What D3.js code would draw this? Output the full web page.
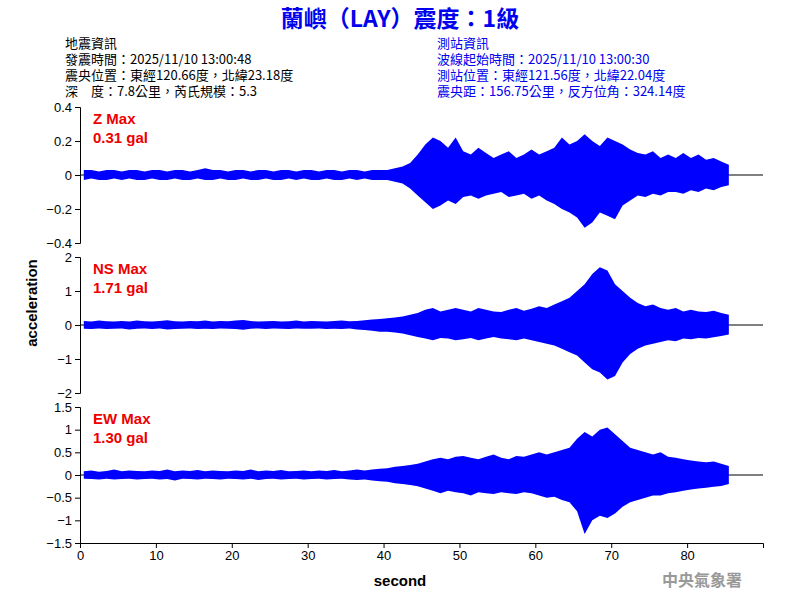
<!DOCTYPE html>
<html><head><meta charset="utf-8">
<script src="https://cdn.jsdelivr.net/npm/d3@7"></script>
<style>body{margin:0;background:#fff}text{font-family:Arial,"Liberation Sans",sans-serif}</style>
</head><body><div id="chart"></div>
<script>
// peak envelope per second
let zHi=[.03,.03,.02,.03,.03,.02,.03,.03,.02,.03,.03,.02,.03,.03,.02,.03,.04,.03,.03,.02,.03,.03,.02,.03,.03,.02,.03,.03,.02,.03,.03,.02,.03,.03,.02,.03,.03,.02,.03,.03,.03,.04,.05,.07,.12,.18,.22,.2,.16,.22,.14,.12,.16,.13,.1,.12,.14,.1,.12,.15,.12,.14,.16,.22,.18,.2,.24,.2,.17,.22,.2,.18,.15,.13,.12,.14,.1,.12,.1,.13,.1,.12,.09,.1,.08,.06]
let zLo=[-.03,-.02,-.03,-.03,-.02,-.03,-.02,-.03,-.03,-.02,-.03,-.03,-.02,-.03,-.03,-.02,-.03,-.03,-.02,-.03,-.03,-.02,-.03,-.03,-.02,-.03,-.03,-.02,-.03,-.02,-.03,-.03,-.02,-.03,-.03,-.02,-.03,-.02,-.03,-.03,-.03,-.04,-.05,-.08,-.12,-.16,-.2,-.18,-.15,-.17,-.13,-.12,-.14,-.12,-.11,-.1,-.13,-.12,-.11,-.14,-.12,-.15,-.17,-.2,-.22,-.25,-.31,-.28,-.22,-.24,-.26,-.18,-.15,-.12,-.13,-.11,-.12,-.1,-.1,-.11,-.09,-.1,-.08,-.09,-.07,-.06]
let nsHi=[.12,.1,.13,.11,.1,.12,.1,.13,.11,.1,.12,.14,.11,.1,.12,.11,.13,.1,.12,.11,.13,.15,.12,.1,.11,.12,.1,.11,.13,.1,.12,.11,.1,.12,.13,.11,.12,.14,.16,.18,.2,.22,.25,.3,.35,.45,.5,.4,.45,.5,.45,.4,.5,.45,.4,.38,.45,.5,.42,.48,.55,.5,.6,.7,.8,1.0,1.2,1.5,1.7,1.6,1.2,1.0,.8,.65,.55,.6,.5,.45,.5,.4,.45,.4,.38,.42,.35,.3]
let nsLo=[-.11,-.12,-.1,-.12,-.11,-.1,-.13,-.11,-.1,-.12,-.1,-.13,-.12,-.11,-.1,-.12,-.11,-.12,-.1,-.11,-.12,-.14,-.11,-.1,-.12,-.1,-.11,-.12,-.1,-.11,-.11,-.1,-.12,-.11,-.12,-.1,-.13,-.15,-.17,-.2,-.2,-.22,-.25,-.3,-.35,-.4,-.45,-.38,-.4,-.45,-.42,-.38,-.45,-.4,-.35,-.4,-.42,-.45,-.4,-.45,-.5,-.55,-.6,-.7,-.8,-.9,-1.1,-1.3,-1.4,-1.6,-1.5,-1.1,-.85,-.7,-.6,-.55,-.5,-.45,-.48,-.4,-.42,-.38,-.4,-.36,-.32,-.28]
let ewHi=[.08,.1,.07,.09,.12,.08,.1,.09,.08,.1,.09,.12,.08,.1,.09,.11,.08,.1,.09,.08,.1,.09,.12,.08,.1,.09,.11,.08,.09,.1,.08,.1,.09,.11,.08,.1,.12,.1,.12,.14,.15,.18,.2,.22,.25,.3,.35,.38,.35,.4,.42,.38,.35,.4,.45,.38,.35,.42,.4,.45,.5,.45,.5,.55,.6,.8,.95,.85,1.0,1.05,.9,.75,.6,.55,.5,.45,.5,.4,.38,.35,.32,.3,.28,.3,.25,.2]
let ewLo=[-.08,-.09,-.1,-.08,-.1,-.09,-.08,-.1,-.09,-.08,-.1,-.09,-.12,-.08,-.09,-.1,-.08,-.09,-.1,-.08,-.09,-.1,-.08,-.11,-.09,-.08,-.1,-.09,-.08,-.1,-.09,-.08,-.1,-.09,-.08,-.1,-.11,-.1,-.12,-.14,-.15,-.18,-.2,-.22,-.25,-.3,-.35,-.4,-.35,-.38,-.4,-.45,-.38,-.4,-.42,-.38,-.4,-.42,-.38,-.4,-.45,-.5,-.48,-.55,-.6,-.8,-1.3,-1.0,-.9,-.95,-.85,-.7,-.6,-.55,-.5,-.45,-.45,-.4,-.38,-.35,-.32,-.3,-.28,-.26,-.24,-.2]

let panels=[
 {name:"Z Max",max:"0.31 gal",hi:zHi,lo:zLo,lim:0.4,ticks:[-0.4,-0.2,0,0.2,0.4]},
 {name:"NS Max",max:"1.71 gal",hi:nsHi,lo:nsLo,lim:2,ticks:[-2,-1,0,1,2]},
 {name:"EW Max",max:"1.30 gal",hi:ewHi,lo:ewLo,lim:1.5,ticks:[-1.5,-1,-0.5,0,0.5,1,1.5]}
]
let leftInfo=["地震資訊","發震時間：2025/11/10 13:00:48","震央位置：東經120.66度，北緯23.18度","深　度：7.8公里，芮氏規模：5.3"]
let rightInfo=["測站資訊","波線起始時間：2025/11/10 13:00:30","測站位置：東經121.56度，北緯22.04度","震央距：156.75公里，反方位角：324.14度"]

let svg=d3.select("#chart").append("svg").attr("width",800).attr("height",600)
let x=d3.scaleLinear().domain([0,90]).range([80,763])

svg.append("text").attr("x",400).attr("y",27).attr("text-anchor","middle")
 .style("font-size","23px").style("font-weight","bold").style("fill","#0000ee")
 .style("font-family","'Noto Sans CJK TC',sans-serif").text("蘭嶼（LAY）震度：1級")
leftInfo.forEach((t,i)=>svg.append("text").attr("x",65).attr("y",48+i*16).style("font-size","13px")
 .style("font-family","'Noto Sans CJK TC',sans-serif").text(t))
rightInfo.forEach((t,i)=>svg.append("text").attr("x",437).attr("y",48+i*16).style("font-size","13px").style("fill","#0000ee")
 .style("font-family","'Noto Sans CJK TC',sans-serif").text(t))

panels.forEach((p,k)=>{
 let top=107+k*150
 let y=d3.scaleLinear().domain([-p.lim,p.lim]).range([top+136,top])
 let g=svg.append("g")
 g.append("line").attr("x1",80).attr("x2",763).attr("y1",y(0)).attr("y2",y(0)).attr("stroke","#000")
 let area=d3.area().x((d,i)=>x(i+0.5)).y0((d,i)=>y(p.lo[i])).y1((d,i)=>y(p.hi[i]))
 g.append("path").datum(p.hi).attr("d",area).attr("fill","#0000ff")
 g.append("g").attr("transform","translate(80,0)")
  .call(d3.axisLeft(y).tickValues(p.ticks).tickSize(5).tickFormat(d3.format("")))
  .call(a=>a.selectAll("text").style("font-size","13px"))
 g.append("text").attr("x",93).attr("y",top+17).style("fill","#ee0000").style("font-size","15px").style("font-weight","bold").text(p.name)
 g.append("text").attr("x",93).attr("y",top+36).style("fill","#ee0000").style("font-size","15px").style("font-weight","bold").text(p.max)
})

svg.append("g").attr("transform","translate(0,543)")
 .call(d3.axisBottom(x).tickValues(d3.range(0,90,10)).tickSize(5))
 .call(a=>a.selectAll("text").style("font-size","13px"))
svg.append("text").attr("x",400).attr("y",586).attr("text-anchor","middle").style("font-size","15px").style("font-weight","bold").text("second")
svg.append("text").attr("transform","translate(37,303) rotate(-90)").attr("text-anchor","middle").style("font-size","15px").style("font-weight","bold").text("acceleration")
svg.append("text").attr("x",702).attr("y",586).attr("text-anchor","middle").style("font-size","16px").style("font-weight","bold").style("fill","#999")
 .style("font-family","'Noto Sans CJK TC',sans-serif").text("中央氣象署")
</script></body></html>
